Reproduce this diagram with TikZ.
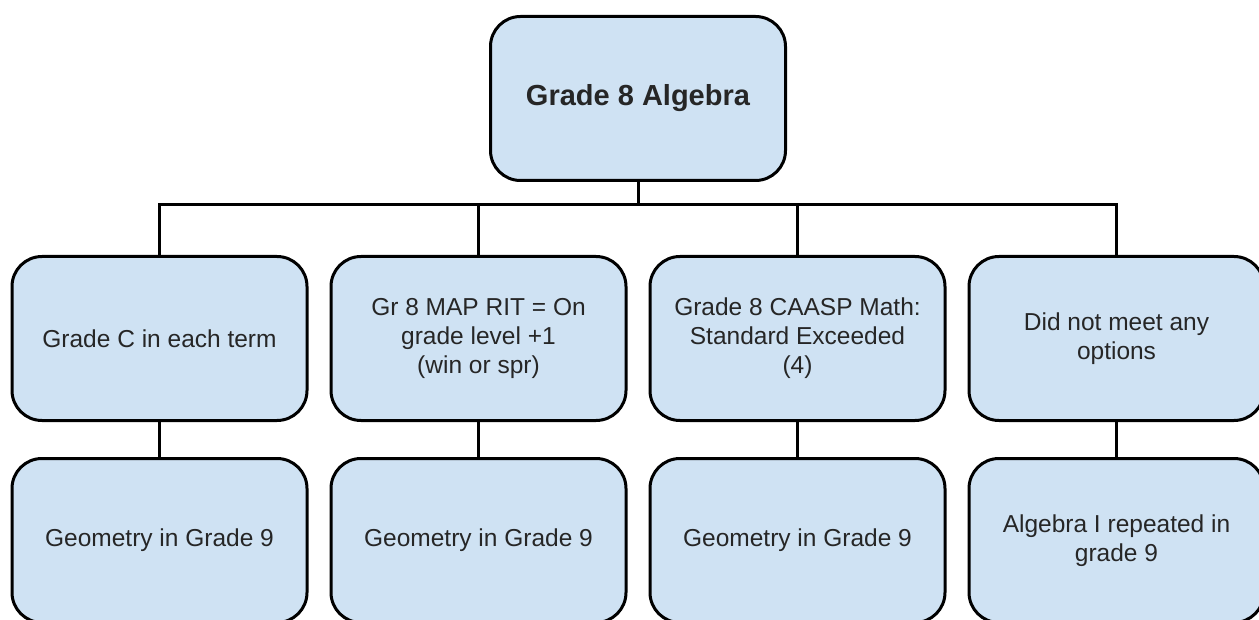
\documentclass[tikz,border=0pt]{standalone}
\usepackage{fontspec}
\setmainfont{Liberation Sans}
\usepackage{xcolor}
\usetikzlibrary{positioning}
\definecolor{boxblue}{HTML}{CFE2F3}

\begin{document}
\begin{tikzpicture}[
    x=1pt, y=-1pt,
    box/.style={rectangle, draw, line width=3pt, rounded corners=30pt, fill=boxblue, minimum width=295pt, minimum height=164pt, align=center, inner sep=0pt, text=black!85, font=\fontsize{24.5}{29}\selectfont},
    topbox/.style={box, font=\fontsize{29}{34}\selectfont\bfseries},
    line/.style={draw, line width=3pt}
]
\useasboundingbox (0,0) rectangle (1259,620);

% Grade 8 course
\node [topbox] (alg8) at (638,98.5) {Grade 8 Algebra};

% Placement options
\node [box] (optc) at (159.5,338.5) {Grade C in each term};
\node [box, right=21pt of optc] (optmap) {Gr 8 MAP RIT = On\\grade level +1\\(win or spr)};
\node [box, right=21pt of optmap] (optcaasp) {Grade 8 CAASP Math:\\Standard Exceeded\\(4)};
\node [box, right=21pt of optcaasp] (optnone) {Did not meet any\\options};

% Grade 9 results
\node [box, below=35pt of optc] (resc) {Geometry in Grade 9};
\node [box, below=35pt of optmap] (resmap) {Geometry in Grade 9};
\node [box, below=35pt of optcaasp] (rescaasp) {Geometry in Grade 9};
\node [box, below=35pt of optnone] (resnone) {Algebra I repeated in\\grade 9};

% Connections
\draw [line] (alg8.south) -- ++(0,23) coordinate (bus);
\draw [line] (bus) -| (optc.north);
\draw [line] (bus) -| (optmap.north);
\draw [line] (bus) -| (optcaasp.north);
\draw [line] (bus) -| (optnone.north);
\draw [line] (optc) -- (resc);
\draw [line] (optmap) -- (resmap);
\draw [line] (optcaasp) -- (rescaasp);
\draw [line] (optnone) -- (resnone);

\end{tikzpicture}
\end{document}
